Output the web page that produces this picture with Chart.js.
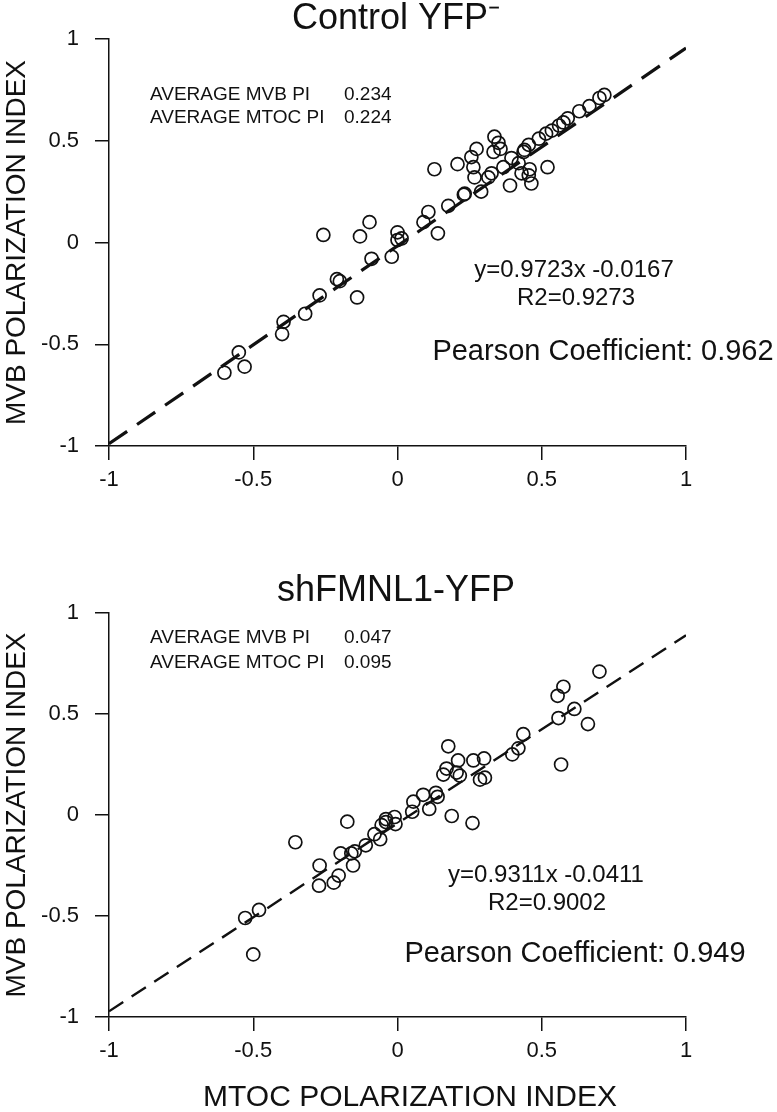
<!DOCTYPE html>
<html>
<head>
<meta charset="utf-8">
<script src="https://cdn.jsdelivr.net/npm/chart.js@4.4.1/dist/chart.umd.min.js"></script>
<style>
  html, body { margin: 0; padding: 0; background: #fff; }
  #wrap { position: relative; width: 777px; height: 1112px; }
  #c1 { position: absolute; left: 0; top: 0; }
  #c2 { position: absolute; left: 0; top: 540px; }
</style>
</head>
<body>
<div id="wrap">
  <canvas id="c1" width="777" height="540"></canvas>
  <canvas id="c2" width="777" height="572"></canvas>
</div>
<script>
// ---------- DATA ----------
const tickValues = [-1, -0.5, 0, 0.5, 1];
const tickLabels = ['-1', '-0.5', '0', '0.5', '1'];

// Control YFP- : MTOC PI (x) and MVB PI (y)
const topMTOC = [-0.60, -0.55, -0.53, -0.40, -0.395, -0.32, -0.27, -0.257, -0.21, -0.20,
  -0.14, -0.13, -0.097, -0.09, -0.02, 0.00, 0.00, 0.014, 0.09, 0.107,
  0.128, 0.14, 0.176, 0.208, 0.23, 0.233, 0.256, 0.263, 0.267, 0.274,
  0.29, 0.315, 0.326, 0.333, 0.336, 0.35, 0.357, 0.367, 0.39, 0.395,
  0.42, 0.43, 0.437, 0.44, 0.455, 0.455, 0.458, 0.464, 0.49, 0.515,
  0.52, 0.535, 0.56, 0.575, 0.59, 0.63, 0.665, 0.70, 0.717];
const topMVB = [-0.64, -0.54, -0.61, -0.45, -0.39, -0.35, -0.26, 0.037, -0.18, -0.19,
  -0.27, 0.03, 0.10, -0.08, -0.07, 0.05, 0.012, 0.02, 0.10, 0.15,
  0.36, 0.045, 0.18, 0.385, 0.235, 0.24, 0.42, 0.37, 0.32, 0.46,
  0.25, 0.32, 0.34, 0.445, 0.52, 0.49, 0.46, 0.37, 0.28, 0.415,
  0.39, 0.34, 0.445, 0.455, 0.48, 0.33, 0.36, 0.29, 0.51, 0.535,
  0.37, 0.55, 0.575, 0.59, 0.61, 0.645, 0.67, 0.71, 0.725];
const topFitX = [-1, 1];
const topFitY = [-0.989, 0.956];   // y=0.9723x -0.0167

// shFMNL1-YFP
const botMTOC = [-0.50, -0.528, -0.48, -0.354, -0.272, -0.27, -0.221, -0.204, -0.197, -0.174,
  -0.16, -0.154, -0.148, -0.11, -0.08, -0.06, -0.055, -0.04, -0.04, -0.01,
  -0.007, 0.051, 0.055, 0.089, 0.11, 0.133, 0.139, 0.159, 0.17, 0.176,
  0.188, 0.205, 0.21, 0.216, 0.26, 0.263, 0.286, 0.30, 0.303, 0.398,
  0.419, 0.436, 0.555, 0.558, 0.567, 0.575, 0.613, 0.66, 0.70];
const botMVB = [-0.69, -0.51, -0.47, -0.135, -0.35, -0.25, -0.335, -0.30, -0.19, -0.033,
  -0.19, -0.25, -0.18, -0.15, -0.095, -0.12, -0.05, -0.02, -0.035, -0.01,
  -0.045, 0.016, 0.066, 0.10, 0.03, 0.11, 0.09, 0.20, 0.23, 0.34,
  -0.005, 0.21, 0.27, 0.195, -0.04, 0.27, 0.175, 0.28, 0.185, 0.30,
  0.33, 0.40, 0.59, 0.48, 0.25, 0.635, 0.525, 0.45, 0.71];
const botFitX = [-1, 1];
const botFitY = [-0.972, 0.890];   // y=0.9311x -0.0411

// ---------- HELPERS ----------
const SANS = '"Liberation Sans", Arial, sans-serif';

function pts(xs, ys) { return xs.map((x, i) => ({ x: x, y: ys[i] })); }

const textPlugin = {
  id: 'texts',
  afterDraw(chart, args, opts) {
    const ctx = chart.ctx;
    (opts.items || []).forEach(it => {
      ctx.save();
      ctx.fillStyle = '#111';
      ctx.textBaseline = 'middle';
      ctx.font = it.font;
      ctx.textAlign = it.align || 'left';
      ctx.fillText(it.text, it.x, it.y);
      ctx.restore();
    });
  }
};

function axis(fixedSize, isY, pad) {
  return {
    type: 'linear',
    min: -1, max: 1,
    afterBuildTicks: (s) => { s.ticks = tickValues.map(v => ({ value: v })); },
    afterFit: (s) => { if (isY) s.width = fixedSize; else s.height = fixedSize; },
    ticks: {
      autoSkip: false, maxRotation: 0, padding: pad,
      color: '#111',
      font: { family: SANS, size: 22 },
      callback: (v, i) => tickLabels[i]
    },
    grid: { drawOnChartArea: false, drawTicks: true, tickLength: 14, color: '#111', lineWidth: 1.5 },
    border: { display: true, color: '#111', width: 1.5 },
    title: {
      display: isY, text: 'MVB POLARIZATION INDEX', color: '#111',
      font: { family: SANS, size: 28 }, padding: { top: 0, bottom: 0 }
    }
  };
}

function makeChart(id, xs, ys, fx, fy, dash, lw, pad, xH, items) {
  return new Chart(document.getElementById(id), {
    type: 'scatter',
    data: {
      datasets: [
        {
          type: 'line', data: pts(fx, fy), borderColor: '#111', borderWidth: lw,
          borderDash: dash, pointRadius: 0, fill: false, tension: 0, order: 0
        },
        {
          data: pts(xs, ys), pointRadius: 6.5, pointStyle: 'circle',
          borderColor: '#111', borderWidth: 1.7, backgroundColor: 'rgba(0,0,0,0)', order: 1
        }
      ]
    },
    options: {
      responsive: false, animation: false,
      layout: { padding: pad },
      plugins: { legend: { display: false }, tooltip: { enabled: false }, texts: { items: items } },
      scales: {
        x: axis(xH, false, 7),
        y: axis(109, true, 16)
      }
    },
    plugins: [textPlugin]
  });
}

makeChart('c1', topMTOC, topMVB, topFitX, topFitY, [22, 12], 3.2,
  { top: 39, right: 91, left: 0, bottom: 0 }, 94, [
  { text: 'Control YFP\u207B', x: 396, y: 19, font: '36px ' + SANS, align: 'center' },
  { text: 'AVERAGE MVB PI', x: 150, y: 95, font: '19px ' + SANS },
  { text: '0.234', x: 344, y: 95, font: '19px ' + SANS },
  { text: 'AVERAGE MTOC PI', x: 150, y: 118, font: '19px ' + SANS },
  { text: '0.224', x: 344, y: 118, font: '19px ' + SANS },
  { text: 'y=0.9723x -0.0167', x: 574, y: 270, font: '24px ' + SANS, align: 'center' },
  { text: 'R2=0.9273', x: 576, y: 298, font: '24px ' + SANS, align: 'center' },
  { text: 'Pearson Coefficient: 0.962', x: 603, y: 352, font: '29px ' + SANS, align: 'center' }
]);

makeChart('c2', botMTOC, botMVB, botFitX, botFitY, [17, 10], 2.4,
  { top: 73, right: 91, left: 0, bottom: 0 }, 95, [
  { text: 'shFMNL1-YFP', x: 396, y: 51, font: '36px ' + SANS, align: 'center' },
  { text: 'AVERAGE MVB PI', x: 150, y: 98, font: '19px ' + SANS },
  { text: '0.047', x: 344, y: 98, font: '19px ' + SANS },
  { text: 'AVERAGE MTOC PI', x: 150, y: 123, font: '19px ' + SANS },
  { text: '0.095', x: 344, y: 123, font: '19px ' + SANS },
  { text: 'y=0.9311x -0.0411', x: 546, y: 335, font: '24px ' + SANS, align: 'center' },
  { text: 'R2=0.9002', x: 547, y: 363, font: '24px ' + SANS, align: 'center' },
  { text: 'Pearson Coefficient: 0.949', x: 575, y: 414, font: '29px ' + SANS, align: 'center' },
  { text: 'MTOC POLARIZATION INDEX', x: 410, y: 558, font: '30px ' + SANS, align: 'center' }
]);
</script>
</body>
</html>
